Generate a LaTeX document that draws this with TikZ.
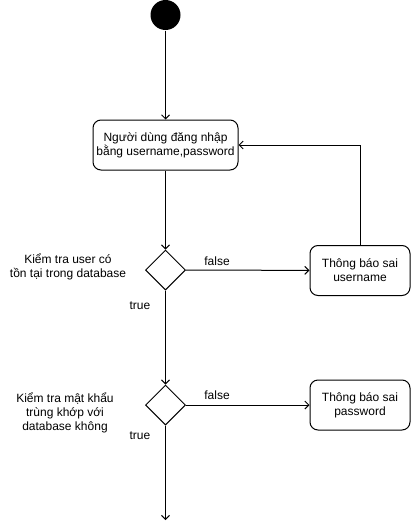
\documentclass[tikz,border=0pt]{standalone}
\usepackage{fontspec}
\setmainfont{Liberation Sans}
\usetikzlibrary{shapes.geometric,arrows.meta}
\begin{document}
\begin{tikzpicture}
    [x=1pt,y=-1pt,line width=1pt,
     start/.style={circle,fill=black,minimum size=30pt,inner sep=0pt},
     act/.style={rectangle,rounded corners=8pt,draw,minimum width=145pt,minimum height=50pt,align=center,font=\fontsize{12}{14}\selectfont},
     msg/.style={act,minimum width=100pt},
     choice/.style={diamond,draw,minimum size=40pt,inner sep=0pt},
     txt/.style={align=center,font=\fontsize{12}{14}\selectfont,inner sep=0pt},
     flow/.style={-{Straight Barb[length=4pt,width=8pt]}}]
    \useasboundingbox (0,0) rectangle (411,530);
    \node[start] (S) at (165.5,15) {};
    \node[act] (B1) at (165.5,145) {Người dùng đăng nhập\\bằng username,password};
    \node[choice] (D1) at (165.5,270) {};
    \node[msg] (B2) at (360,270.5) {Thông báo sai\\username};
    \node[choice] (D2) at (165.5,405) {};
    \node[msg] (B3) at (360,405) {Thông báo sai\\password};
    \coordinate (E) at (165.5,520);
    
    \node[txt] (Q1) at (68,267) {Kiểm tra user có\\tồn tại trong database};
    \node[txt] (Q2) at (65,413) {Kiểm tra mật khẩu\\trùng khớp với\\database không};
    \node[txt] (F1) at (217,261) {false};
    \node[txt] (F2) at (217,395) {false};
    \node[txt] (T1) at (140,306) {true};
    \node[txt] (T2) at (140,436) {true};
    
    \draw[flow] (S) -- (B1);
    \draw[flow] (B1) -- (D1);
    \draw[flow] (D1) -- (B2);
    \draw[flow] (B2.north) |- (B1.east);
    \draw[flow] (D1) -- (D2);
    \draw[flow] (D2) -- (B3);
    \draw[flow] (D2) -- (E);
  \end{tikzpicture}
\end{document}
